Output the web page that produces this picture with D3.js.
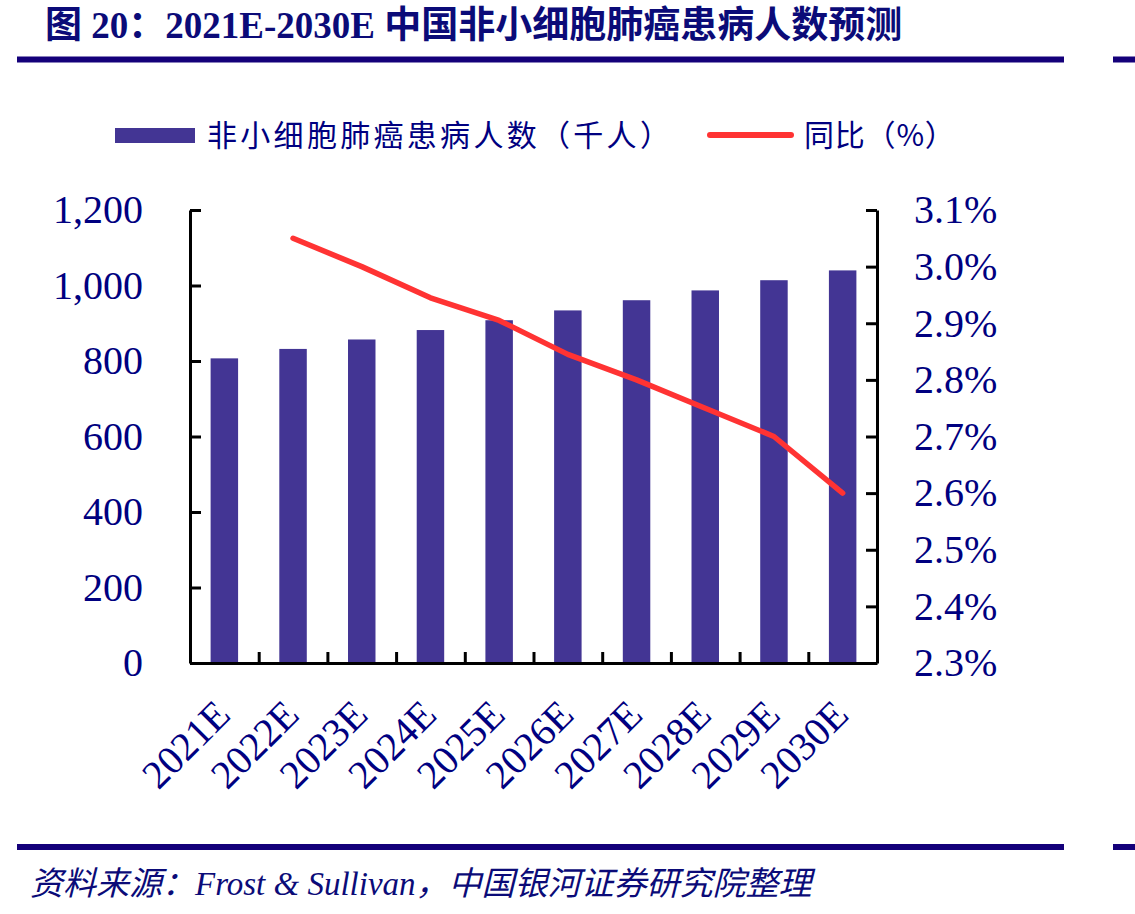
<!DOCTYPE html>
<html>
<head>
<meta charset="utf-8">
<script src="https://cdn.jsdelivr.net/npm/d3@7"></script>
<style>
  body { margin: 0; background: #fff; }
  svg { display: block; }
</style>
</head>
<body>
<div id="chart"></div>
<script>
// 2021E-2030E NSCLC patients (bars, left axis) and YoY growth (line, right axis)

const years = ["2021E", "2022E", "2023E", "2024E", "2025E", "2026E", "2027E", "2028E", "2029E", "2030E"];
const patients = [807, 832, 857, 882, 908, 934, 961, 987, 1014, 1040];
const growth = [null, 3.05, 3.0, 2.945, 2.905, 2.845, 2.8, 2.75, 2.7, 2.6];
const leftTicks = [0, 200, 400, 600, 800, 1000, 1200];
const rightTicks = [2.3, 2.4, 2.5, 2.6, 2.7, 2.8, 2.9, 3.0, 3.1];

const W = 1135, H = 914;
const navy = "#000080";
const ruleColor = "#14007a";
const barColor = "#433594";
const lineColor = "#ff3333";
const serif = "'Liberation Serif', 'Times New Roman', 'Noto Sans CJK SC', serif";
const cjk = "'Liberation Serif', 'Noto Sans CJK SC', sans-serif";

const plot = { left: 190, right: 877, top: 210, bottom: 663 };

const svg = d3.select("#chart")
  .append("svg")
  .attr("width", W)
  .attr("height", H);

// title + rules
svg.append("text")
  .attr("x", 45)
  .attr("y", 38)
  .style("font-family", cjk)
  .style("font-size", "37px")
  .style("font-weight", "bold")
  .style("fill", "#0b0b78")
  .text("图 20：2021E-2030E 中国非小细胞肺癌患病人数预测");

[59.5, 847].forEach(y => {
  svg.append("rect").attr("x", 17).attr("y", y - 3).attr("width", 1047).attr("height", 6).attr("fill", ruleColor);
  svg.append("rect").attr("x", 1113).attr("y", y - 3).attr("width", 22).attr("height", 6).attr("fill", ruleColor);
});

svg.append("text")
  .attr("x", 30)
  .attr("y", 895)
  .style("font-family", cjk)
  .style("font-size", "33px")
  .style("font-style", "italic")
  .style("fill", "#0b0b78")
  .text("资料来源：Frost & Sullivan，中国银河证券研究院整理");

// legend
const legend = svg.append("g");
legend.append("rect")
  .attr("x", 115).attr("y", 128)
  .attr("width", 80).attr("height", 15)
  .attr("fill", barColor);
legend.append("text")
  .attr("x", 207).attr("y", 146)
  .style("font-family", "'Noto Sans CJK SC', sans-serif")
  .style("font-size", "30px")
  .style("letter-spacing", "3.3px")
  .style("fill", navy)
  .text("非小细胞肺癌患病人数（千人）");
legend.append("line")
  .attr("x1", 710).attr("x2", 791)
  .attr("y1", 135).attr("y2", 135)
  .attr("stroke", lineColor)
  .attr("stroke-width", 6)
  .attr("stroke-linecap", "round");
legend.append("text")
  .attr("x", 804).attr("y", 146)
  .style("font-family", "'Noto Sans CJK SC', sans-serif")
  .style("font-size", "30px")
  .style("letter-spacing", "0.8px")
  .style("fill", navy)
  .text("同比（%）");

// scales
const x = d3.scaleBand()
  .domain(years)
  .range([plot.left, plot.right])
  .paddingInner(0.6)
  .paddingOuter(0.3);

const xEdge = d3.scaleLinear()
  .domain([0, years.length])
  .range([plot.left, plot.right]);

const y = d3.scaleLinear()
  .domain([0, 1200])
  .range([plot.bottom, plot.top]);

const y2 = d3.scaleLinear()
  .domain([2.3, 3.1])
  .range([plot.bottom, plot.top]);

// bars
svg.append("g")
  .selectAll("rect")
  .data(years.map((d, i) => ({ year: d, value: patients[i] })))
  .join("rect")
  .attr("x", d => x(d.year))
  .attr("y", d => y(d.value))
  .attr("width", x.bandwidth())
  .attr("height", d => y(0) - y(d.value))
  .attr("fill", barColor);

// axes
function styleAxis(g) {
  g.select(".domain").attr("stroke", "#000").attr("stroke-width", 3);
  g.selectAll(".tick line").attr("stroke", "#000").attr("stroke-width", 3);
  g.selectAll(".tick text")
    .style("font-family", serif)
    .style("font-size", "40px")
    .style("fill", navy);
}

svg.append("g")
  .attr("transform", `translate(${plot.left},0)`)
  .call(d3.axisLeft(y).tickValues(leftTicks).tickSize(-11).tickSizeOuter(0).tickPadding(47).tickFormat(d3.format(",")))
  .call(styleAxis);

svg.append("g")
  .attr("transform", `translate(${plot.right},0)`)
  .call(d3.axisRight(y2).tickValues(rightTicks).tickSize(-11).tickSizeOuter(0).tickPadding(37).tickFormat(d => d.toFixed(1) + "%"))
  .call(styleAxis);

svg.append("g")
  .attr("transform", `translate(0,${plot.bottom})`)
  .call(d3.axisBottom(xEdge).tickValues(d3.range(1, years.length)).tickSize(-11).tickSizeOuter(0).tickFormat(""))
  .call(styleAxis);

// rotated category labels
svg.append("g")
  .selectAll("text")
  .data(years)
  .join("text")
  .attr("transform", d => `translate(${x(d) + x.bandwidth() / 2 + 8},${plot.bottom + 54}) rotate(-45)`)
  .attr("text-anchor", "end")
  .style("font-family", serif)
  .style("font-size", "40px")
  .style("fill", navy)
  .text(d => d);

// growth line
const line = d3.line()
  .defined(d => d.value != null)
  .x(d => x(d.year) + x.bandwidth() / 2)
  .y(d => y2(d.value));

svg.append("path")
  .datum(years.map((d, i) => ({ year: d, value: growth[i] })))
  .attr("d", line)
  .attr("fill", "none")
  .attr("stroke", lineColor)
  .attr("stroke-width", 5.5)
  .attr("stroke-linecap", "round")
  .attr("stroke-linejoin", "round");
</script>
</body>
</html>
